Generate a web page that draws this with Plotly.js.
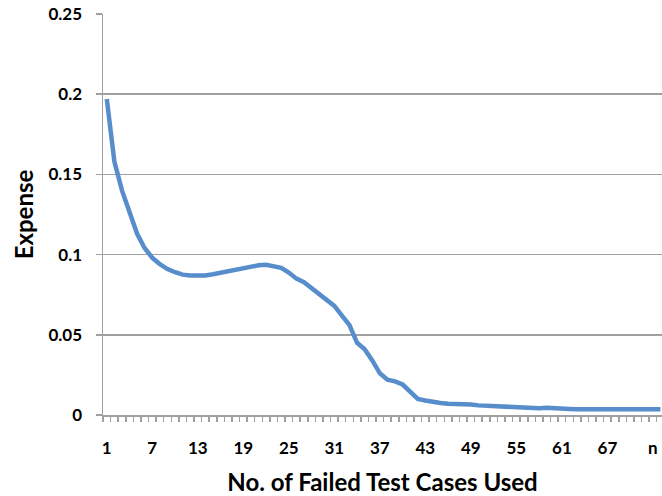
<!DOCTYPE html>
<html>
<head>
<meta charset="utf-8">
<script src="https://cdn.plot.ly/plotly-3.0.1.min.js"></script>
<style>html,body{margin:0;padding:0;background:#fff}#chart{width:662px;height:496px}</style>
</head>
<body>
<div id="chart"></div>
<script>
// Category positions (index) and their labels
const tickPositions = [0, 6, 12, 18, 24, 30, 36, 42, 48, 54, 60, 66, 72];
const tickLabels = ["1", "7", "13", "19", "25", "31", "37", "43", "49", "55", "61", "67", "n"];

// Expense per number of failed test cases used (1..n, plus trailing point)
const expense = [
  0.197, 0.158, 0.140, 0.126, 0.113, 0.104, 0.098, 0.094, 0.091, 0.089,
  0.0875, 0.087, 0.0868, 0.087, 0.0878, 0.0888, 0.0898, 0.0908, 0.092, 0.0928,
  0.0933, 0.0937, 0.0925, 0.0918, 0.0888, 0.085, 0.0828, 0.079, 0.0755, 0.072,
  0.068, 0.062, 0.056, 0.045, 0.041, 0.034, 0.026, 0.022, 0.021, 0.019,
  0.014, 0.010, 0.009, 0.008, 0.0075, 0.007, 0.007, 0.0068, 0.0065, 0.006,
  0.0058, 0.0055, 0.0052, 0.005, 0.0048, 0.0042, 0.004, 0.0042, 0.0045, 0.0045,
  0.0044, 0.0038, 0.0036, 0.0036, 0.0036, 0.0036, 0.0036, 0.0036, 0.0036, 0.0036,
  0.0036, 0.0036, 0.0036, 0.0036
];
const xIndex = expense.map((_, i) => i);

const font = "Lato, 'Open Sans', sans-serif";

Plotly.newPlot('chart', [{
  x: xIndex,
  y: expense,
  type: 'scatter',
  mode: 'lines',
  line: {color: 'rgb(88,141,204)', width: 4.5},
  hoverinfo: 'skip'
}], {
  width: 662, height: 496,
  margin: {l: 103, r: 0, t: 14, b: 81, pad: 0},
  paper_bgcolor: '#fff', plot_bgcolor: '#fff',
  showlegend: false,
  font: {family: font, color: '#000'},
  xaxis: {
    range: [-0.5, 73.2],
    tickmode: 'array', tickvals: tickPositions, ticktext: tickLabels,
    ticks: '', showgrid: false, zeroline: false,
    showline: true, linecolor: '#a0a0a0', linewidth: 1.5,
    tickfont: {family: font, size: 17, weight: 'bold', color: '#000'},
    ticklabelstandoff: 17,
    minor: {tickmode: 'linear', tick0: 0.5, dtick: 1, ticks: 'outside', ticklen: 5, tickcolor: '#a0a0a0', tickwidth: 1.5, showgrid: false},
    title: {text: 'No. of Failed Test Cases Used', font: {family: font, size: 24, weight: 'bold', color: '#000'}, standoff: 18}
  },
  yaxis: {
    range: [0, 0.25], dtick: 0.05, tick0: 0,
    ticks: 'outside', ticklen: 6, tickcolor: '#a0a0a0', tickwidth: 1.5,
    showgrid: true, gridcolor: '#a0a0a0', gridwidth: 1.5,
    zeroline: false,
    showline: true, linecolor: '#a0a0a0', linewidth: 1.5,
    tickfont: {family: font, size: 17, weight: 'bold', color: '#000'},
    ticklabelstandoff: 10,
    title: {text: 'Expense', font: {family: font, size: 24, weight: 'bold', color: '#000'}, standoff: 8}
  }
}, {staticPlot: true});
</script>
</body>
</html>
